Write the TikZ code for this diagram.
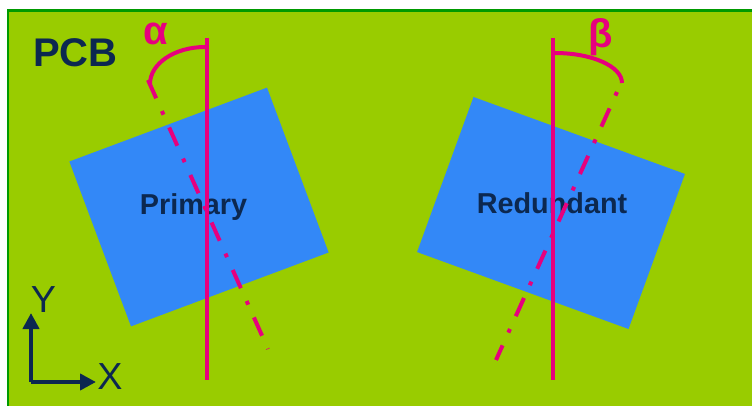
\documentclass[tikz,border=0pt]{standalone}
\usepackage{fontspec}
\setmainfont{Liberation Sans}
\usetikzlibrary{arrows.meta}
\definecolor{pcbgreen}{HTML}{99CC00}
\definecolor{pcbedge}{HTML}{009A00}
\definecolor{chipblue}{HTML}{3388F7}
\definecolor{markpink}{HTML}{E6007E}
\definecolor{navy}{HTML}{0C2850}
\begin{document}
\begin{tikzpicture}[x=1pt, y=1pt,
    chip/.style={fill=chipblue, inner sep=0pt, outer sep=0pt},
    chiptext/.style={font=\bfseries\fontsize{28.8}{30}\selectfont, text=navy, anchor=base, inner sep=0pt},
    greek/.style={font=\bfseries\fontsize{40}{40}\selectfont, text=markpink, anchor=base, inner sep=0pt},
    axistext/.style={font=\fontsize{37.7}{38}\selectfont, text=navy, anchor=base, inner sep=0pt},
    refline/.style={draw=markpink, line width=4.5pt},
    tiltline/.style={draw=markpink, line width=4pt},
    angleline/.style={draw=markpink, line width=4pt},
    axisline/.style={draw=navy, line width=4pt, -{Triangle[width=16pt, length=16pt]}}]
  \useasboundingbox (0,0) rectangle (752,405);
  \clip (0,0) rectangle (752,405);
  % board
  \filldraw[fill=pcbgreen, draw=pcbedge, line width=2.5pt] (8,-10) rectangle (770,394.5);
  \node[font=\bfseries\fontsize{40}{40}\selectfont, text=navy, anchor=base west, inner sep=0pt] (pcb) at (33,338) {PCB};
  % parts
  \node[chip, rotate=20.5, minimum width=211pt, minimum height=176pt] (primary) at (199,198) {};
  \node[chip, rotate=-20, minimum width=225pt, minimum height=165pt] (redundant) at (551,192) {};
  \node[chiptext] (primarytext) at (193.5,191) {Primary};
  \node[chiptext] (redundanttext) at (552,192) {Redundant};
  % reference and tilted axes
  \coordinate (ptop) at (207,367);
  \coordinate (pbot) at (207,25);
  \coordinate (rtop) at (553,367);
  \coordinate (rbot) at (553,25);
  \draw[refline] (ptop) -- (pbot);
  \draw[refline] (rtop) -- (rbot);
  \coordinate (ptilttop) at (148,325);
  \coordinate (ptiltbot) at (268,56);
  \coordinate (rtilttop) at (617,313);
  \coordinate (rtiltbot) at (496,45);
  \draw[tiltline, dash pattern=on 20pt off 14pt on 4pt off 14pt] (ptilttop) -- (ptiltbot);
  \draw[tiltline, dash pattern=on 4pt off 14pt on 20pt off 14pt] (rtilttop) -- (rtiltbot);
  % angles
  \coordinate (alphastart) at (205,358);
  \coordinate (betastart) at (555,352);
  \draw[angleline] (alphastart) arc[start angle=90, end angle=180, x radius=55, y radius=37];
  \draw[angleline] (betastart) arc[start angle=90, end angle=0, x radius=67, y radius=30];
  \node[greek] (alpha) at (156,360) {α};
  \node[greek] (beta) at (601,357) {β};
  % axes
  \coordinate (origin) at (31,23);
  \coordinate (yend) at (31,92);
  \coordinate (xend) at (96,23);
  \draw[axisline] (origin) -- (yend);
  \draw[axisline] (origin) -- (xend);
  \node[axistext] (ylabel) at (43.5,93) {Y};
  \node[axistext] (xlabel) at (110,16) {X};
\end{tikzpicture}
\end{document}
